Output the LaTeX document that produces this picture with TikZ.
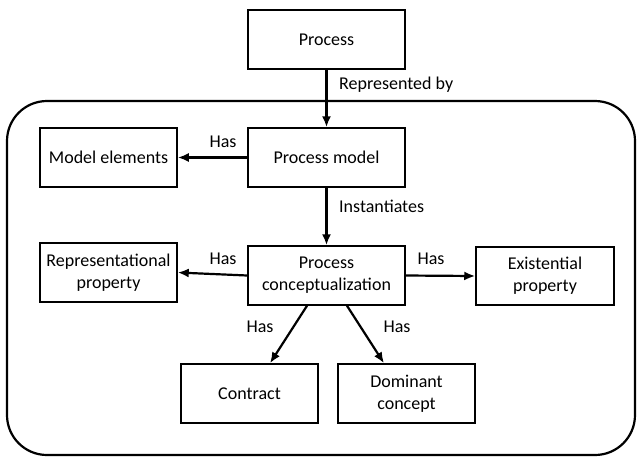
\documentclass[tikz,border=0pt]{standalone}
\usepackage{fontspec}
\setmainfont{Carlito}
\usetikzlibrary{arrows.meta,calc}
\begin{document}
\begin{tikzpicture}[x=1pt,y=-1pt,
  box/.style={draw,line width=1.5pt,minimum height=59pt,inner sep=2pt,align=center,font=\fontsize{18}{22}\selectfont},
  lbl/.style={font=\fontsize{18}{22}\selectfont,inner sep=1pt},
  arr/.style={line width=2.2pt,-{Latex[length=11pt,width=9pt]}}]
\useasboundingbox (0,0) rectangle (637,459);
\draw[line width=2.2pt,rounded corners=40pt] (7,101) rectangle (635,455);
\node[box,minimum width=157pt] (process) at (326.5,39.5) {Process};
\node[box,minimum width=137pt] (elements) at (108.5,157.5) {Model elements};
\node[box,minimum width=157pt] (model) at (326.5,157.5) {Process model};
\node[box,minimum width=157pt] (concept) at (326.5,275.5) {Process\\conceptualization};
\node[box,minimum width=137pt] (repr) at (108.5,272.5) {Representational\\property};
\node[box,minimum width=138pt,minimum height=58pt] (exist) at (545,276) {Existential\\property};
\node[box,minimum width=137pt] (contract) at (249.5,393.5) {Contract};
\node[box,minimum width=137pt] (dominant) at (406.5,393.5) {Dominant\\concept};
\draw[arr] (process) -- (model);
\draw[arr] (model) -- (elements);
\draw[arr] (model) -- (concept);
\draw[arr] (concept.west) -- (repr.east);
\draw[arr] (concept.east) -- (exist.west);
\draw[arr] ($(concept.south)+(-19.5,0)$) -- ($(contract.north)+(20.5,0)$);
\draw[arr] ($(concept.south)+(20.5,0)$) -- ($(dominant.north)+(-22.5,0)$);
\node[lbl,anchor=west] (lrep) at (338,85) {Represented by};
\node[lbl,anchor=west] (linst) at (338,206) {Instantiates};
\node[lbl] (lh1) at (223,142) {Has};
\node[lbl] (lh2) at (223,259) {Has};
\node[lbl] (lh3) at (431,259) {Has};
\node[lbl] (lh4) at (260,327) {Has};
\node[lbl] (lh5) at (397,327) {Has};
\end{tikzpicture}
\end{document}
